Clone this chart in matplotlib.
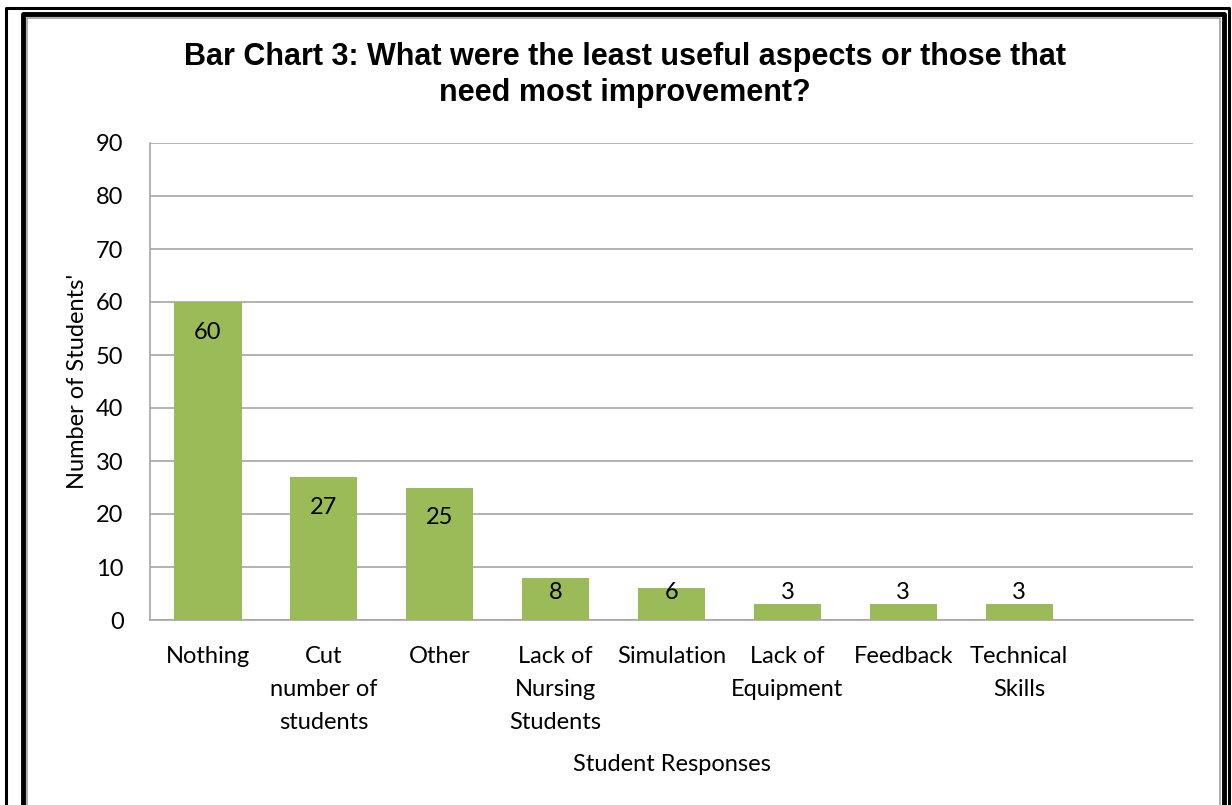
import numpy as np
import matplotlib.pyplot as plt
from matplotlib.lines import Line2D

# data
categories = ["Nothing", "Cut\nnumber of\nstudents", "Other", "Lack of\nNursing\nStudents",
              "Simulation", "Lack of\nEquipment", "Feedback", "Technical\nSkills"]
counts = [60, 27, 25, 8, 6, 3, 3, 3]
yticks = [0, 10, 20, 30, 40, 50, 60, 70, 80, 90]

W, H = 1232, 805
fig = plt.figure(figsize=(W / 100, H / 100), dpi=100)
fig.patch.set_facecolor("white")

# plot area in pixels: left 150, right 1193, top 143, bottom 620
ax = fig.add_axes([150 / W, 1 - 620 / H, (1193 - 150) / W, (620 - 143) / H])

x = np.arange(len(counts))
ax.bar(x, counts, width=0.58, color="#9BBB59", zorder=3)
ax.set_xlim(-0.5, 8.5)
ax.set_ylim(0, 90)
ax.set_yticks(yticks)
ax.grid(axis="y", color="#A6A6A6", linewidth=1.2, zorder=0)
for s in ["top", "right"]:
    ax.spines[s].set_visible(False)
for s in ["left", "bottom"]:
    ax.spines[s].set_color("#A6A6A6")
    ax.spines[s].set_linewidth(1.2)

lab_font = "Lato"
fs = 17
ax.set_xticks(x)
ax.set_xticklabels(categories, fontfamily=lab_font, fontsize=fs, linespacing=1.7)
ax.tick_params(axis="x", length=0, pad=19)
ax.tick_params(axis="y", length=0, pad=19, labelsize=fs)
for t in ax.get_yticklabels():
    t.set_fontfamily(lab_font)

# value labels, inside the top of each bar
for xi, v in zip(x, counts):
    ax.text(xi, max(v - 5.7, 5.1), str(v), ha="center", va="center",
            fontsize=fs, fontfamily=lab_font, zorder=4)

ax.set_ylabel("Number of Students'", fontfamily=lab_font, fontsize=fs, labelpad=6)
ax.set_xlabel("Student Responses", fontfamily=lab_font, fontsize=fs, labelpad=15)

fig.text(625 / W, 1 - 75 / H, "Bar Chart 3: What were the least useful aspects or those that\nneed most improvement?",
         ha="center", va="center", fontsize=22, fontweight="bold",
         fontfamily="Liberation Sans", linespacing=1.3)

# frame around the chart
def px_line(xs, ys, **kw):
    fig.add_artist(Line2D([v / W for v in xs], [1 - v / H for v in ys],
                          transform=fig.transFigure, **kw))

px_line([6, 6, 1229, 1229], [H + 10, 8, 8, H + 10], color="black", linewidth=2.2)
px_line([23, 23, 1224, 1224], [H + 10, 14, 14, H + 10], color="black", linewidth=3.5)
px_line([27, 27, 1220, 1220], [H + 10, 18, 18, H + 10], color="#A0A0A0", linewidth=1.2)

fig.savefig("out.png", dpi=100)
